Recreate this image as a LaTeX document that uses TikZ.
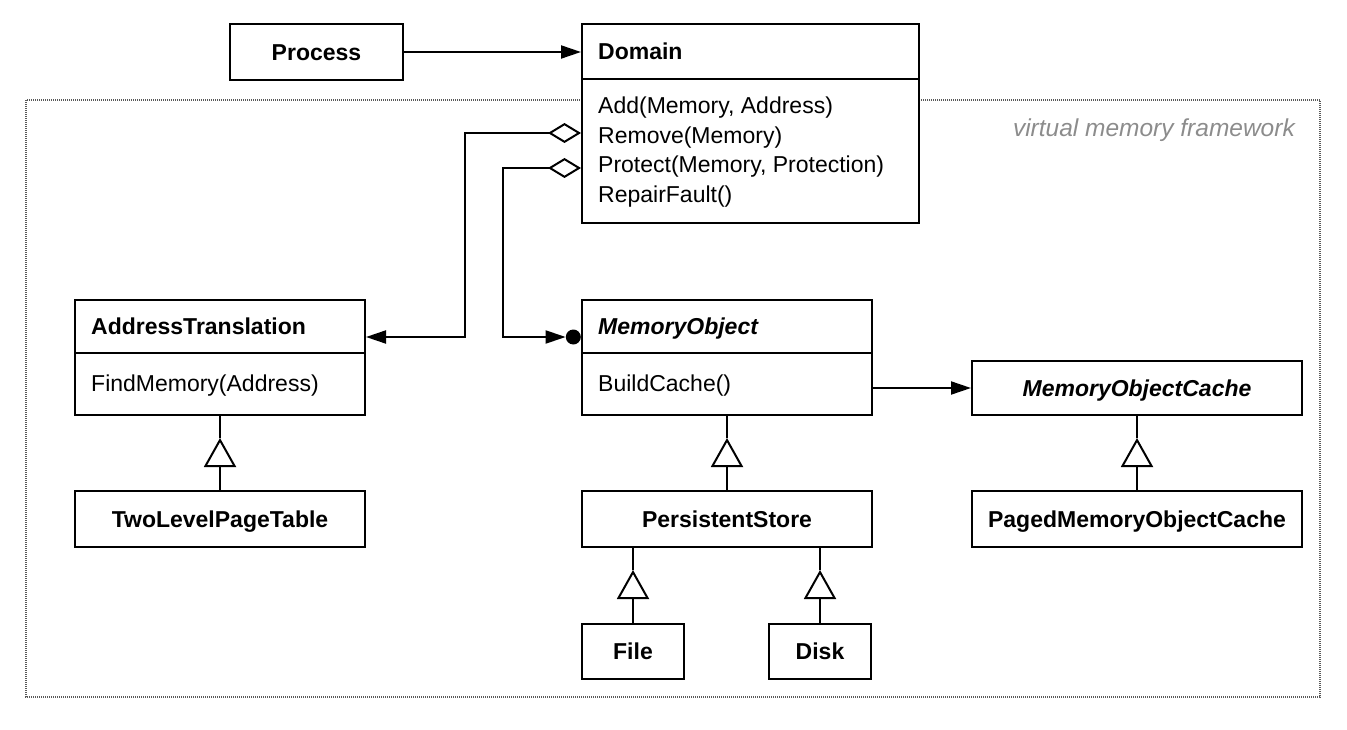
\documentclass[tikz,border=0pt]{standalone}
\usepackage{fontspec}
\setmainfont{Liberation Sans}
\usetikzlibrary{arrows.meta,calc}
\tikzset{
  cls/.style={draw, line width=2pt, fill=white, inner sep=0pt, anchor=north west},
  nm/.style={font=\fontsize{23}{27}\selectfont\bfseries, text height=16.5pt, text depth=0pt, inner sep=0pt},
  nmi/.style={font=\fontsize{23}{27}\selectfont\bfseries\itshape, text height=16.5pt, text depth=0pt, inner sep=0pt},
  mt/.style={font=\fontsize{23}{27}\selectfont, inner sep=0pt, anchor=base west},
  conn/.style={line width=2pt},
  tipf/.style={-{Triangle[length=20pt,width=13pt]}},
  inh/.style={-{Triangle[open,length=29pt,width=32pt,fill=white]}},
  aggtip/.style={{Diamond[open,length=33pt,width=20pt]}-{Triangle[length=20pt,width=13pt]}},
  frame/.style={draw=black!65, line width=2.4pt, dash pattern=on 1pt off 1pt},
}
\begin{document}
\begin{tikzpicture}[x=1pt,y=-1pt]
\useasboundingbox (0,0) rectangle (1347,730);

% package frame
\draw[frame] (26,100) rectangle (1320,697);
\node[font=\fontsize{24.5}{28}\selectfont\itshape, text=black!45, inner sep=0pt, anchor=base east] (lbl) at (1295,137) {virtual memory framework};

% classes
\node[cls, nm, minimum width=173pt, minimum height=56pt] (process) at (229,23) {Process};

\node[cls, minimum width=337pt, minimum height=199pt] (domain) at (581,23) {};
\draw[conn] ($(domain.north west)+(0,56)$) -- ($(domain.north east)+(0,56)$);
\node[nm, anchor=west] (domaint) at ($(domain.north west)+(17,28)$) {Domain};
\node[mt] (dm1) at ($(domain.north west)+(17,91)$) {Add(Memory, Address)};
\node[mt] (dm2) at ($(domain.north west)+(17,120.5)$) {Remove(Memory)};
\node[mt] (dm3) at ($(domain.north west)+(17,150)$) {Protect(Memory, Protection)};
\node[mt] (dm4) at ($(domain.north west)+(17,179.5)$) {RepairFault()};

\node[cls, minimum width=290pt, minimum height=115pt] (addr) at (74,299) {};
\draw[conn] ($(addr.north west)+(0,54)$) -- ($(addr.north east)+(0,54)$);
\node[nm, anchor=west] (addrt) at ($(addr.north west)+(17,27)$) {AddressTranslation};
\node[mt] (am1) at ($(addr.north west)+(17,92.5)$) {FindMemory(Address)};

\node[cls, minimum width=290pt, minimum height=115pt] (mo) at (581,299) {};
\draw[conn] ($(mo.north west)+(0,54)$) -- ($(mo.north east)+(0,54)$);
\node[nmi, anchor=west] (mot) at ($(mo.north west)+(17,27)$) {MemoryObject};
\node[mt] (mom1) at ($(mo.north west)+(17,92.5)$) {BuildCache()};

\node[cls, nmi, minimum width=330pt, minimum height=54pt] (moc) at (971,360) {MemoryObjectCache};

\node[cls, nm, minimum width=290pt, minimum height=56pt] (tlpt) at (74,490) {TwoLevelPageTable};
\node[cls, nm, minimum width=290pt, minimum height=56pt] (ps) at (581,490) {PersistentStore};
\node[cls, nm, minimum width=330pt, minimum height=56pt] (pmoc) at (971,490) {PagedMemoryObjectCache};
\node[cls, nm, minimum width=102pt, minimum height=55pt] (file) at (581,623) {File};
\node[cls, nm, minimum width=102pt, minimum height=55pt] (disk) at (768,623) {Disk};

% helper levels
\coordinate (yr) at (0,133);
\coordinate (yp) at (0,168);
\coordinate (yh) at (0,337);

\node[circle, fill=black, inner sep=0pt, minimum size=15pt, anchor=east] (dot) at (mo.west |- yh) {};

% connectors
\draw[conn, tipf] (process.east) -- (process.east -| domain.west);
\draw[conn, aggtip] (domain.west |- yr) -- ++(-116,0) |- (addr.east |- yh);
\draw[conn, aggtip] (domain.west |- yp) -- ++(-78,0) |- (dot.west);
\draw[conn, tipf] (moc.west -| mo.east) -- (moc.west);

% inheritance
\draw[conn, inh] (tlpt.north) -- ++(0,-52);
\draw[conn] (tlpt.north) ++(0,-52) -- (addr.south);
\draw[conn, inh] (ps.north) -- ++(0,-52);
\draw[conn] (ps.north) ++(0,-52) -- (mo.south);
\draw[conn, inh] (pmoc.north) -- ++(0,-52);
\draw[conn] (pmoc.north) ++(0,-52) -- (moc.south);
\draw[conn, inh] (file.north) -- ++(0,-53);
\draw[conn] (file.north) ++(0,-53) -- (file.north |- ps.south);
\draw[conn, inh] (disk.north) -- ++(0,-53);
\draw[conn] (disk.north) ++(0,-53) -- (disk.north |- ps.south);
\end{tikzpicture}
\end{document}
